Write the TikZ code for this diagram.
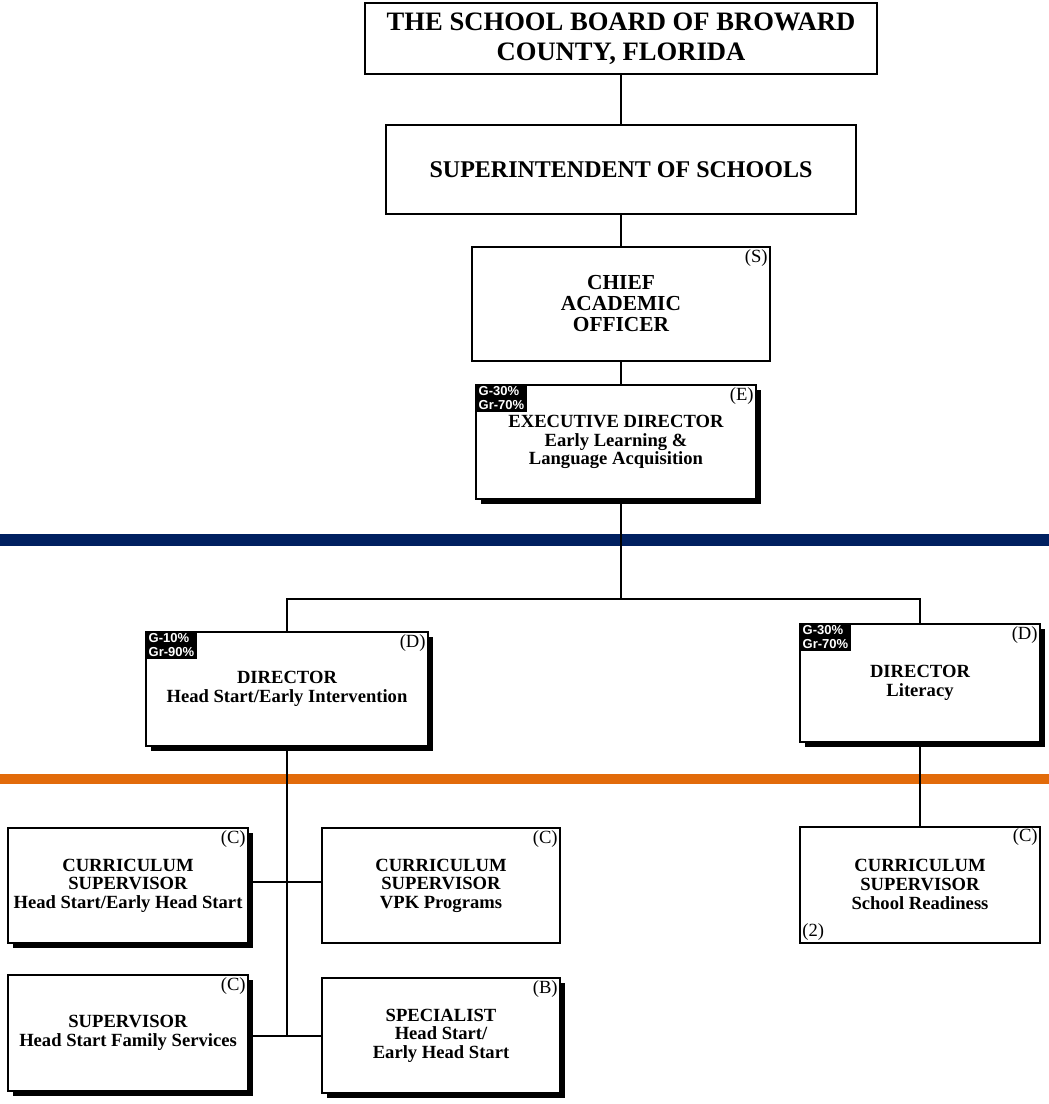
\documentclass[tikz,border=0pt]{standalone}
\usepackage{fontspec}
\setmainfont{Liberation Serif}
\newfontfamily\fundfont{Liberation Sans}
\usetikzlibrary{shadows}
\definecolor{bandblue}{RGB}{0,32,96}
\definecolor{bandorange}{RGB}{226,107,10}
\newcommand{\fund}[2]{G-#1\%\\Gr-#2\%}
\newcommand{\widthpost}{120pt}
\newcommand{\heightpost}{57.5pt}
\tikzset{
    common/.style={draw, rectangle, fill=white, line width=1pt, inner sep=0pt, align=center, font=\fontsize{9.3}{9.3}\selectfont\bfseries},
    topbox/.style={common, font=\fontsize{12}{13}\selectfont\bfseries},
    plain/.style={common, minimum width=\widthpost, minimum height=\heightpost},
    post/.style={plain, drop shadow={shadow xshift=2.5pt, shadow yshift=-2.5pt, fill=black, opacity=1}},
    grade/.style={anchor=north east, inner sep=1.5pt, font=\fontsize{9.3}{9.3}\selectfont},
    fund/.style={anchor=north west, fill=black, text=white, inner sep=1pt, align=left, minimum width=26pt, minimum height=14pt, font=\fontsize{6.5}{7}\fundfont\bfseries},
    link/.style={line width=0.75pt}
}

\begin{document}
\begin{tikzpicture}[x=0.5pt, y=-0.5pt]
    \useasboundingbox (0,0) rectangle (1049,1104);
    \fill[bandblue] (0,534) rectangle (1049,546);
    \fill[bandorange] (0,774) rectangle (1049,784);

    \node[topbox, minimum width=256pt, minimum height=35.5pt, font=\fontsize{13.3}{15}\selectfont\bfseries] (board) at (621,38.5) {THE SCHOOL BOARD OF BROWARD\\COUNTY, FLORIDA};
    \node[topbox, minimum width=235pt, minimum height=44.5pt] (super) at (621,169.5) {SUPERINTENDENT OF SCHOOLS};
    \node[topbox, minimum width=149pt, minimum height=57pt, font=\fontsize{10.7}{10.5}\selectfont\bfseries, label={[grade]north east:(S)}] (chief) at (621,304) {CHIEF\\ACADEMIC\\OFFICER};
    \node[post, minimum width=140pt, minimum height=57pt, label={[fund]north west:{\fund{30}{70}}}, label={[grade]north east:(E)}] (exec) at (616,442) {EXECUTIVE DIRECTOR\\Early Learning \&\\Language Acquisition};

    \node[post, minimum width=141pt, minimum height=57pt, label={[fund]north west:{\fund{10}{90}}}, label={[grade]north east:(D)}] (dirhs) at (287,689) {DIRECTOR\\Head Start/Early Intervention};
    \node[post, minimum height=59pt, label={[fund]north west:{\fund{30}{70}}}, label={[grade]north east:(D)}] (dirlit) at (920,683) {DIRECTOR\\Literacy};

    \node[post, label={[grade]north east:(C)}] (cshs) at (128,885.5) {CURRICULUM\\SUPERVISOR\\Head Start/Early Head Start};
    \node[plain, minimum width=119pt, label={[grade]north east:(C)}] (vpk) at (441,885.5) {CURRICULUM\\SUPERVISOR\\VPK Programs};
    \node[post, minimum height=58pt, label={[grade]north east:(C)}] (famsvc) at (128,1033) {SUPERVISOR\\Head Start Family Services};
    \node[post, minimum width=119pt, label={[grade]north east:(B)}] (spec) at (441,1035.5) {SPECIALIST\\Head Start/\\Early Head Start};
    \node[plain, minimum height=58pt, label={[grade]north east:(C)}, label={[grade, anchor=south west]south west:(2)}] (ready) at (920,884.5) {CURRICULUM\\SUPERVISOR\\School Readiness};

    \coordinate (split) at (621,599);
    \coordinate (hubtop) at (287,882);
    \coordinate (hubbottom) at (287,1036);

    \draw[link] (board) -- (super);
    \draw[link] (super) -- (chief);
    \draw[link] (chief.south) -- (chief.south |- exec.north);
    \draw[link] (exec.south -| split) -- (split);
    \draw[link] (dirhs.north) |- (split) -| (dirlit.north);
    \draw[link] (dirhs.south) -- (hubbottom);
    \draw[link] (cshs.east |- hubtop) -- (vpk.west |- hubtop);
    \draw[link] (famsvc.east |- hubbottom) -- (spec.west |- hubbottom);
    \draw[link] (dirlit.south) -- (ready.north);
\end{tikzpicture}
\end{document}
